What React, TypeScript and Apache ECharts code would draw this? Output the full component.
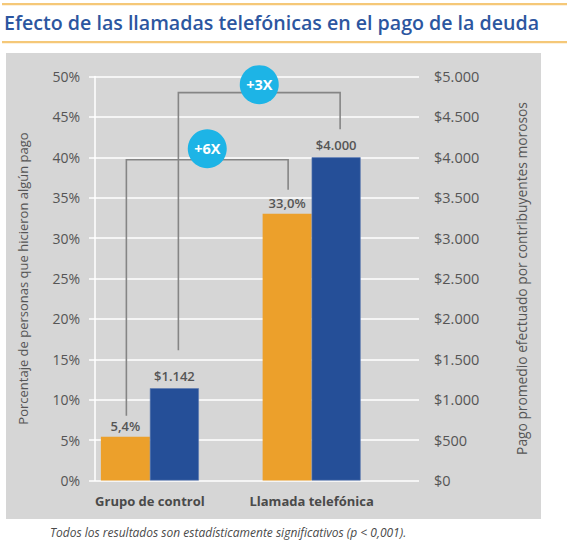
import React, { useEffect, useRef } from "react";
import * as echarts from "echarts";

const categories = ["Grupo de control", "Llamada telefónica"];
const pctValues = [5.4, 33.0];
const payValues = [1142, 4000];
const pctTicks = { min: 0, max: 50, interval: 5 };
const payTicks = { min: 0, max: 5000, interval: 500 };
const multipliers = ["+6X", "+3X"];
const titleText = "Efecto de las llamadas telefónicas en el pago de la deuda";
const footText = "Todos los resultados son estadísticamente significativos (p < 0,001).";
const leftName = "Porcentaje de personas que hicieron algún pago";
const rightName = "Pago promedio efectuado por contribuyentes morosos";

const FONT = "'Open Sans', sans-serif";
const ORANGE = "#eca02b";
const BLUE = "#254f98";
const CYAN = "#1db4e6";
const GOLD = "#f5c878";
const TXT = "#555555";

const fmtPct = (v: number) => v.toFixed(1).replace(".", ",") + "%";
const fmtMoney = (v: number) =>
  "$" + String(Math.round(v)).replace(/\B(?=(\d{3})+(?!\d))/g, ".");

export default function App() {
  const ref = useRef<HTMLDivElement>(null);
  useEffect(() => {
    if (!ref.current) return;
    const chart = echarts.init(ref.current, null, { renderer: "svg" });
    const gridTop = 76.5;
    const gridBottom = 544 - 480.5;
    const option: any = {
      animation: false,
      textStyle: { fontFamily: FONT },
      grid: [
        { left: 95, right: 570 - 419, top: gridTop, bottom: gridBottom },
        { left: 69, right: 570 - 392.5, top: gridTop, bottom: gridBottom },
      ],
      xAxis: [
        { type: "value", gridIndex: 0, show: false, min: 0, max: 1 },
        {
          type: "category",
          gridIndex: 1,
          data: categories,
          axisLine: { show: false },
          axisTick: { show: false },
          axisLabel: {
            margin: 14,
            color: "#4a4a4a",
            fontWeight: "bold",
            fontSize: 13,
            fontFamily: FONT,
          },
        },
      ],
      yAxis: [
        {
          type: "value",
          gridIndex: 0,
          ...pctTicks,
          position: "left",
          name: leftName,
          nameLocation: "middle",
          nameGap: 66,
          nameRotate: 90,
          nameTextStyle: { color: TXT, fontSize: 13, fontFamily: FONT },
          axisLine: { show: true, lineStyle: { color: "#ffffff", width: 1.5 } },
          axisTick: { show: true, length: 6, lineStyle: { color: "#ffffff", width: 1.5 } },
          axisLabel: {
            margin: 15,
            color: TXT,
            fontSize: 14,
            fontFamily: FONT,
            formatter: (v: number) => v + "%",
          },
          splitLine: { show: true, lineStyle: { color: "#ffffff", width: 1.5 } },
        },
        {
          type: "value",
          gridIndex: 0,
          ...payTicks,
          position: "right",
          name: rightName,
          nameLocation: "middle",
          nameGap: 95,
          nameRotate: 90,
          nameTextStyle: { color: TXT, fontSize: 13.8, fontFamily: FONT },
          axisLine: { show: false },
          axisTick: { show: false },
          axisLabel: {
            margin: 15,
            color: TXT,
            fontSize: 14.5,
            fontFamily: FONT,
            formatter: (v: number) => fmtMoney(v),
          },
          splitLine: { show: false },
        },
        { type: "value", gridIndex: 1, ...pctTicks, show: false },
        { type: "value", gridIndex: 1, ...payTicks, show: false },
      ],
      series: [
        {
          type: "bar",
          xAxisIndex: 1,
          yAxisIndex: 2,
          data: pctValues,
          barWidth: 49,
          barGap: "0%",
          itemStyle: { color: ORANGE },
          label: {
            show: true,
            position: "top",
            distance: 4,
            color: TXT,
            fontWeight: 600,
            fontSize: 13,
            fontFamily: FONT,
            formatter: (p: any) => fmtPct(p.value),
          },
        },
        {
          type: "bar",
          xAxisIndex: 1,
          yAxisIndex: 3,
          data: payValues,
          barWidth: 49,
          barGap: "0%",
          itemStyle: { color: BLUE, borderColor: "#5a78b0", borderWidth: 0.6 },
          label: {
            show: true,
            position: "top",
            distance: 6,
            color: TXT,
            fontWeight: 600,
            fontSize: 13,
            fontFamily: FONT,
            formatter: (p: any) => fmtMoney(p.value),
          },
        },
      ],
    };
    chart.setOption(option);

    // bracket annotations computed from the bars' own positions
    const yIdx = [2, 3];
    const levelValues = [39.7, 4800];
    const endGaps = [[21, 24], [38, 28]];
    const xShift = [1, 4];
    const lift = [11, 8];
    const seriesVals = [pctValues, payValues];
    const gfx: any[] = [
      {
        type: "rect",
        z: -100,
        shape: { x: 6, y: 53, width: 535, height: 466 },
        style: { fill: "#d6d6d6" },
      },
      { type: "rect", shape: { x: 2, y: 3, width: 565, height: 2.2 }, style: { fill: GOLD } },
      { type: "rect", shape: { x: 2, y: 41, width: 565, height: 2.2 }, style: { fill: GOLD } },
      {
        type: "text",
        x: 4,
        y: 22,
        style: {
          text: titleText,
          fill: "#2c56a0",
          font: `600 19.6px ${FONT}`,
          verticalAlign: "middle",
        },
      },
      {
        type: "text",
        x: 50,
        y: 532,
        style: {
          text: footText,
          fill: "#4a4a4a",
          font: `italic 12px ${FONT}`,
          verticalAlign: "middle",
        },
      },
    ];
    for (let b = 0; b < 2; b++) {
      const off = b === 0 ? -24.5 : 24.5;
      const finder = { xAxisIndex: 1, yAxisIndex: yIdx[b] } as any;
      const pts = [0, 1].map((i) => {
        const p = chart.convertToPixel(finder, [i, seriesVals[b][i]]) as number[];
        return [p[0] + off + xShift[b], p[1]];
      });
      const yl = (chart.convertToPixel(finder, [0, levelValues[b]]) as number[])[1];
      gfx.push({
        type: "polyline",
        z: 5,
        shape: {
          points: [
            [pts[0][0], pts[0][1] - endGaps[b][0]],
            [pts[0][0], yl],
            [pts[1][0], yl],
            [pts[1][0], pts[1][1] - endGaps[b][1]],
          ],
        },
        style: { stroke: "#858585", lineWidth: 1.6, fill: null },
      });
      const cx = (pts[0][0] + pts[1][0]) / 2;
      const cy = yl - lift[b];
      gfx.push({
        type: "circle",
        z: 6,
        shape: { cx, cy, r: 19.5 },
        style: { fill: CYAN },
      });
      gfx.push({
        type: "text",
        z: 7,
        x: cx,
        y: cy,
        style: {
          text: multipliers[b],
          fill: "#ffffff",
          font: `bold 14.5px ${FONT}`,
          align: "center",
          verticalAlign: "middle",
        },
      });
    }
    chart.setOption({ graphic: gfx });
    return () => chart.dispose();
  }, []);
  return (
    <div
      ref={ref}
      style={{ position: "fixed", left: 0, top: 0, width: 570, height: 544, background: "#ffffff" }}
    />
  );
}
